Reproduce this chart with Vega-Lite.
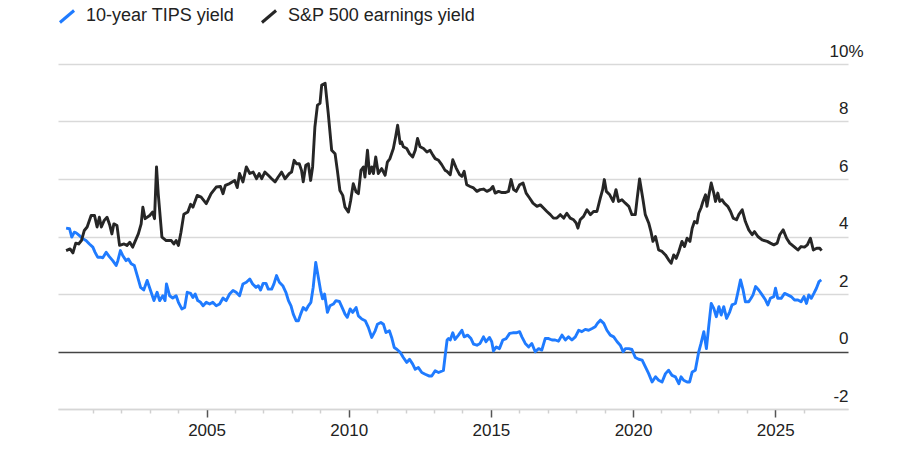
{
  "$schema": "https://vega.github.io/schema/vega-lite/v6.json",
  "width": 790,
  "height": 345,
  "autosize": {"type": "none"},
  "padding": {"left": 58, "top": 64, "right": 52, "bottom": 51},
  "background": "white",
  "config": {
    "font": "Liberation Sans",
    "view": {"stroke": null},
    "axis": {
      "labelFont": "Liberation Sans",
      "labelFontSize": 17,
      "labelColor": "#222222",
      "title": null
    },
    "legend": {
      "labelFont": "Liberation Sans",
      "labelFontSize": 18,
      "labelColor": "#222222",
      "labelLimit": 0
    }
  },
  "datasets": {
    "tips": [
      {"t": 2000.06, "v": 4.29}, {"t": 2000.18, "v": 4.27}, {"t": 2000.26, "v": 3.98}, {"t": 2000.35, "v": 4.15},
      {"t": 2000.41, "v": 4.13}, {"t": 2000.53, "v": 4.03}, {"t": 2000.65, "v": 3.92}, {"t": 2000.76, "v": 3.86},
      {"t": 2000.88, "v": 3.74}, {"t": 2001.0, "v": 3.63}, {"t": 2001.08, "v": 3.45}, {"t": 2001.17, "v": 3.28},
      {"t": 2001.27, "v": 3.28}, {"t": 2001.35, "v": 3.26}, {"t": 2001.47, "v": 3.45}, {"t": 2001.58, "v": 3.3},
      {"t": 2001.7, "v": 3.16}, {"t": 2001.82, "v": 2.99}, {"t": 2001.88, "v": 3.16}, {"t": 2001.97, "v": 3.51},
      {"t": 2002.05, "v": 3.34}, {"t": 2002.17, "v": 3.16}, {"t": 2002.25, "v": 3.22}, {"t": 2002.35, "v": 3.05},
      {"t": 2002.46, "v": 2.99}, {"t": 2002.58, "v": 2.58}, {"t": 2002.68, "v": 2.23}, {"t": 2002.79, "v": 2.14},
      {"t": 2002.91, "v": 2.47}, {"t": 2003.03, "v": 2.12}, {"t": 2003.15, "v": 1.77}, {"t": 2003.26, "v": 2.06},
      {"t": 2003.35, "v": 1.77}, {"t": 2003.46, "v": 1.94}, {"t": 2003.54, "v": 1.77}, {"t": 2003.59, "v": 2.35},
      {"t": 2003.7, "v": 1.94}, {"t": 2003.81, "v": 1.86}, {"t": 2003.93, "v": 1.94}, {"t": 2004.01, "v": 1.71},
      {"t": 2004.13, "v": 1.48}, {"t": 2004.23, "v": 1.53}, {"t": 2004.32, "v": 2.06}, {"t": 2004.44, "v": 2.02},
      {"t": 2004.52, "v": 1.88}, {"t": 2004.6, "v": 2.0}, {"t": 2004.69, "v": 1.77}, {"t": 2004.79, "v": 1.71},
      {"t": 2004.88, "v": 1.59}, {"t": 2004.99, "v": 1.71}, {"t": 2005.11, "v": 1.65}, {"t": 2005.22, "v": 1.71},
      {"t": 2005.34, "v": 1.59}, {"t": 2005.46, "v": 1.65}, {"t": 2005.58, "v": 1.86}, {"t": 2005.69, "v": 1.77},
      {"t": 2005.81, "v": 2.0}, {"t": 2005.93, "v": 2.12}, {"t": 2006.04, "v": 2.06}, {"t": 2006.16, "v": 1.94},
      {"t": 2006.28, "v": 2.35}, {"t": 2006.4, "v": 2.41}, {"t": 2006.52, "v": 2.52}, {"t": 2006.62, "v": 2.35},
      {"t": 2006.74, "v": 2.23}, {"t": 2006.82, "v": 2.29}, {"t": 2006.9, "v": 2.14}, {"t": 2006.99, "v": 2.37},
      {"t": 2007.09, "v": 2.37}, {"t": 2007.17, "v": 2.17}, {"t": 2007.29, "v": 2.17}, {"t": 2007.37, "v": 2.35},
      {"t": 2007.46, "v": 2.64}, {"t": 2007.56, "v": 2.41}, {"t": 2007.68, "v": 2.29}, {"t": 2007.79, "v": 2.06},
      {"t": 2007.88, "v": 1.77}, {"t": 2007.97, "v": 1.59}, {"t": 2008.05, "v": 1.3}, {"t": 2008.15, "v": 1.07},
      {"t": 2008.23, "v": 1.07}, {"t": 2008.31, "v": 1.3}, {"t": 2008.4, "v": 1.53}, {"t": 2008.5, "v": 1.44},
      {"t": 2008.58, "v": 1.59}, {"t": 2008.67, "v": 1.71}, {"t": 2008.75, "v": 2.23}, {"t": 2008.84, "v": 3.1},
      {"t": 2008.93, "v": 2.58}, {"t": 2009.01, "v": 2.12}, {"t": 2009.08, "v": 1.83}, {"t": 2009.15, "v": 2.0},
      {"t": 2009.25, "v": 1.36}, {"t": 2009.34, "v": 1.59}, {"t": 2009.46, "v": 1.65}, {"t": 2009.55, "v": 1.77},
      {"t": 2009.67, "v": 1.74}, {"t": 2009.79, "v": 1.48}, {"t": 2009.87, "v": 1.3}, {"t": 2009.95, "v": 1.19},
      {"t": 2010.05, "v": 1.48}, {"t": 2010.14, "v": 1.36}, {"t": 2010.26, "v": 1.53}, {"t": 2010.34, "v": 1.24},
      {"t": 2010.46, "v": 1.13}, {"t": 2010.58, "v": 1.07}, {"t": 2010.69, "v": 0.84}, {"t": 2010.81, "v": 0.49},
      {"t": 2010.93, "v": 0.72}, {"t": 2011.01, "v": 0.95}, {"t": 2011.13, "v": 1.01}, {"t": 2011.22, "v": 0.95},
      {"t": 2011.31, "v": 0.66}, {"t": 2011.43, "v": 0.72}, {"t": 2011.51, "v": 0.49}, {"t": 2011.6, "v": 0.14},
      {"t": 2011.69, "v": 0.08}, {"t": 2011.81, "v": -0.03}, {"t": 2011.92, "v": -0.21}, {"t": 2012.04, "v": -0.38},
      {"t": 2012.14, "v": -0.27}, {"t": 2012.25, "v": -0.44}, {"t": 2012.34, "v": -0.62}, {"t": 2012.45, "v": -0.56},
      {"t": 2012.57, "v": -0.73}, {"t": 2012.69, "v": -0.79}, {"t": 2012.82, "v": -0.85}, {"t": 2012.92, "v": -0.85},
      {"t": 2013.04, "v": -0.67}, {"t": 2013.16, "v": -0.73}, {"t": 2013.33, "v": -0.66}, {"t": 2013.41, "v": 0.0},
      {"t": 2013.46, "v": 0.4}, {"t": 2013.51, "v": 0.45}, {"t": 2013.57, "v": 0.4}, {"t": 2013.66, "v": 0.65},
      {"t": 2013.74, "v": 0.42}, {"t": 2013.86, "v": 0.57}, {"t": 2013.98, "v": 0.74}, {"t": 2014.06, "v": 0.51},
      {"t": 2014.18, "v": 0.57}, {"t": 2014.3, "v": 0.45}, {"t": 2014.39, "v": 0.26}, {"t": 2014.51, "v": 0.22},
      {"t": 2014.62, "v": 0.28}, {"t": 2014.74, "v": 0.51}, {"t": 2014.83, "v": 0.34}, {"t": 2014.95, "v": 0.49},
      {"t": 2015.03, "v": 0.34}, {"t": 2015.09, "v": 0.02}, {"t": 2015.19, "v": 0.16}, {"t": 2015.3, "v": 0.1},
      {"t": 2015.42, "v": 0.4}, {"t": 2015.54, "v": 0.45}, {"t": 2015.66, "v": 0.63}, {"t": 2015.77, "v": 0.65},
      {"t": 2015.89, "v": 0.65}, {"t": 2016.01, "v": 0.69}, {"t": 2016.09, "v": 0.51}, {"t": 2016.21, "v": 0.28},
      {"t": 2016.33, "v": 0.16}, {"t": 2016.44, "v": 0.28}, {"t": 2016.56, "v": -0.01}, {"t": 2016.68, "v": 0.1},
      {"t": 2016.79, "v": 0.05}, {"t": 2016.91, "v": 0.45}, {"t": 2017.03, "v": 0.45}, {"t": 2017.15, "v": 0.4},
      {"t": 2017.26, "v": 0.4}, {"t": 2017.38, "v": 0.36}, {"t": 2017.5, "v": 0.57}, {"t": 2017.62, "v": 0.4},
      {"t": 2017.73, "v": 0.51}, {"t": 2017.85, "v": 0.4}, {"t": 2017.97, "v": 0.51}, {"t": 2018.09, "v": 0.74},
      {"t": 2018.2, "v": 0.69}, {"t": 2018.32, "v": 0.77}, {"t": 2018.44, "v": 0.74}, {"t": 2018.56, "v": 0.8},
      {"t": 2018.67, "v": 0.86}, {"t": 2018.75, "v": 0.98}, {"t": 2018.85, "v": 1.09}, {"t": 2018.97, "v": 0.98},
      {"t": 2019.08, "v": 0.74}, {"t": 2019.2, "v": 0.57}, {"t": 2019.32, "v": 0.51}, {"t": 2019.44, "v": 0.34},
      {"t": 2019.55, "v": 0.22}, {"t": 2019.65, "v": -0.01}, {"t": 2019.73, "v": 0.1}, {"t": 2019.85, "v": 0.1},
      {"t": 2019.96, "v": 0.07}, {"t": 2020.08, "v": -0.21}, {"t": 2020.2, "v": -0.27}, {"t": 2020.32, "v": -0.3},
      {"t": 2020.43, "v": -0.53}, {"t": 2020.55, "v": -0.77}, {"t": 2020.67, "v": -1.06}, {"t": 2020.79, "v": -0.88},
      {"t": 2020.9, "v": -1.0}, {"t": 2021.02, "v": -1.06}, {"t": 2021.14, "v": -0.77}, {"t": 2021.25, "v": -0.65},
      {"t": 2021.37, "v": -0.83}, {"t": 2021.49, "v": -0.88}, {"t": 2021.61, "v": -1.12}, {"t": 2021.69, "v": -0.88},
      {"t": 2021.78, "v": -1.0}, {"t": 2021.9, "v": -1.06}, {"t": 2021.99, "v": -1.06}, {"t": 2022.08, "v": -0.71},
      {"t": 2022.19, "v": -0.65}, {"t": 2022.31, "v": -0.01}, {"t": 2022.39, "v": 0.28}, {"t": 2022.49, "v": 0.69},
      {"t": 2022.58, "v": 0.1}, {"t": 2022.66, "v": 0.86}, {"t": 2022.75, "v": 1.67}, {"t": 2022.84, "v": 1.5},
      {"t": 2022.93, "v": 1.21}, {"t": 2023.02, "v": 1.56}, {"t": 2023.1, "v": 1.27}, {"t": 2023.19, "v": 1.56},
      {"t": 2023.29, "v": 1.15}, {"t": 2023.4, "v": 1.38}, {"t": 2023.48, "v": 1.62}, {"t": 2023.6, "v": 1.67},
      {"t": 2023.68, "v": 2.02}, {"t": 2023.78, "v": 2.49}, {"t": 2023.87, "v": 2.14}, {"t": 2023.95, "v": 1.73},
      {"t": 2024.07, "v": 1.73}, {"t": 2024.15, "v": 1.85}, {"t": 2024.22, "v": 1.97}, {"t": 2024.31, "v": 2.26},
      {"t": 2024.42, "v": 2.14}, {"t": 2024.54, "v": 1.97}, {"t": 2024.66, "v": 1.79}, {"t": 2024.74, "v": 1.62},
      {"t": 2024.83, "v": 1.85}, {"t": 2024.95, "v": 1.91}, {"t": 2025.01, "v": 2.2}, {"t": 2025.09, "v": 1.85},
      {"t": 2025.21, "v": 1.85}, {"t": 2025.33, "v": 2.02}, {"t": 2025.44, "v": 1.97}, {"t": 2025.56, "v": 1.91},
      {"t": 2025.68, "v": 1.79}, {"t": 2025.8, "v": 1.79}, {"t": 2025.91, "v": 1.73}, {"t": 2026.01, "v": 1.91},
      {"t": 2026.1, "v": 1.67}, {"t": 2026.18, "v": 1.97}, {"t": 2026.27, "v": 1.85}, {"t": 2026.36, "v": 2.02},
      {"t": 2026.45, "v": 2.2}, {"t": 2026.54, "v": 2.43}, {"t": 2026.62, "v": 2.49}
    ],
    "earnings": [
      {"t": 2000.06, "v": 3.51}, {"t": 2000.2, "v": 3.57}, {"t": 2000.3, "v": 3.43}, {"t": 2000.4, "v": 3.77},
      {"t": 2000.5, "v": 3.74}, {"t": 2000.6, "v": 3.86}, {"t": 2000.7, "v": 4.21}, {"t": 2000.8, "v": 4.33},
      {"t": 2000.94, "v": 4.73}, {"t": 2001.06, "v": 4.73}, {"t": 2001.15, "v": 4.33}, {"t": 2001.23, "v": 4.67},
      {"t": 2001.3, "v": 4.33}, {"t": 2001.4, "v": 4.56}, {"t": 2001.5, "v": 4.67}, {"t": 2001.6, "v": 4.38},
      {"t": 2001.67, "v": 4.09}, {"t": 2001.74, "v": 4.44}, {"t": 2001.85, "v": 4.38}, {"t": 2001.94, "v": 3.69},
      {"t": 2002.1, "v": 3.74}, {"t": 2002.2, "v": 3.69}, {"t": 2002.3, "v": 3.8}, {"t": 2002.4, "v": 3.63},
      {"t": 2002.6, "v": 4.09}, {"t": 2002.7, "v": 4.44}, {"t": 2002.76, "v": 5.02}, {"t": 2002.84, "v": 4.62},
      {"t": 2003.0, "v": 4.73}, {"t": 2003.1, "v": 4.85}, {"t": 2003.17, "v": 4.62}, {"t": 2003.24, "v": 6.42},
      {"t": 2003.3, "v": 5.49}, {"t": 2003.43, "v": 3.98}, {"t": 2003.58, "v": 3.86}, {"t": 2003.76, "v": 3.86},
      {"t": 2003.85, "v": 3.74}, {"t": 2003.93, "v": 3.86}, {"t": 2004.01, "v": 3.69}, {"t": 2004.1, "v": 4.15},
      {"t": 2004.2, "v": 4.77}, {"t": 2004.34, "v": 4.85}, {"t": 2004.44, "v": 5.12}, {"t": 2004.52, "v": 5.02},
      {"t": 2004.67, "v": 5.43}, {"t": 2004.81, "v": 5.37}, {"t": 2004.99, "v": 5.14}, {"t": 2005.16, "v": 5.49},
      {"t": 2005.34, "v": 5.72}, {"t": 2005.49, "v": 5.74}, {"t": 2005.58, "v": 5.49}, {"t": 2005.66, "v": 5.78},
      {"t": 2005.81, "v": 5.84}, {"t": 2005.99, "v": 5.95}, {"t": 2006.08, "v": 5.7}, {"t": 2006.16, "v": 6.19},
      {"t": 2006.28, "v": 5.9}, {"t": 2006.4, "v": 6.42}, {"t": 2006.52, "v": 6.19}, {"t": 2006.64, "v": 6.24},
      {"t": 2006.76, "v": 6.01}, {"t": 2006.85, "v": 6.19}, {"t": 2006.94, "v": 6.01}, {"t": 2007.05, "v": 6.24},
      {"t": 2007.17, "v": 6.13}, {"t": 2007.29, "v": 6.01}, {"t": 2007.41, "v": 5.9}, {"t": 2007.52, "v": 6.07},
      {"t": 2007.64, "v": 6.24}, {"t": 2007.76, "v": 6.01}, {"t": 2007.91, "v": 6.19}, {"t": 2007.99, "v": 6.24},
      {"t": 2008.08, "v": 6.65}, {"t": 2008.17, "v": 6.53}, {"t": 2008.26, "v": 6.53}, {"t": 2008.34, "v": 6.3},
      {"t": 2008.4, "v": 5.9}, {"t": 2008.49, "v": 6.48}, {"t": 2008.58, "v": 6.53}, {"t": 2008.66, "v": 5.95},
      {"t": 2008.73, "v": 6.42}, {"t": 2008.81, "v": 7.81}, {"t": 2008.9, "v": 8.57}, {"t": 2008.99, "v": 8.63},
      {"t": 2009.05, "v": 9.27}, {"t": 2009.17, "v": 9.33}, {"t": 2009.28, "v": 8.28}, {"t": 2009.4, "v": 7.0},
      {"t": 2009.52, "v": 6.88}, {"t": 2009.6, "v": 6.3}, {"t": 2009.69, "v": 5.6}, {"t": 2009.79, "v": 5.43},
      {"t": 2009.87, "v": 5.02}, {"t": 2009.99, "v": 4.85}, {"t": 2010.07, "v": 5.26}, {"t": 2010.16, "v": 5.84},
      {"t": 2010.26, "v": 5.55}, {"t": 2010.34, "v": 5.49}, {"t": 2010.43, "v": 6.3}, {"t": 2010.52, "v": 6.42},
      {"t": 2010.57, "v": 6.07}, {"t": 2010.66, "v": 7.0}, {"t": 2010.73, "v": 6.19}, {"t": 2010.81, "v": 6.42},
      {"t": 2010.87, "v": 6.19}, {"t": 2010.95, "v": 6.77}, {"t": 2011.04, "v": 6.19}, {"t": 2011.16, "v": 6.36},
      {"t": 2011.28, "v": 6.13}, {"t": 2011.36, "v": 6.59}, {"t": 2011.45, "v": 6.71}, {"t": 2011.57, "v": 7.06},
      {"t": 2011.65, "v": 7.47}, {"t": 2011.72, "v": 7.87}, {"t": 2011.81, "v": 7.23}, {"t": 2011.86, "v": 7.29},
      {"t": 2011.92, "v": 7.12}, {"t": 2012.04, "v": 7.06}, {"t": 2012.14, "v": 6.88}, {"t": 2012.25, "v": 6.77},
      {"t": 2012.34, "v": 7.0}, {"t": 2012.42, "v": 7.41}, {"t": 2012.51, "v": 7.12}, {"t": 2012.63, "v": 7.06},
      {"t": 2012.75, "v": 6.94}, {"t": 2012.86, "v": 7.0}, {"t": 2012.96, "v": 6.83}, {"t": 2013.04, "v": 6.71},
      {"t": 2013.16, "v": 6.65}, {"t": 2013.27, "v": 6.5}, {"t": 2013.39, "v": 6.3}, {"t": 2013.45, "v": 6.27},
      {"t": 2013.57, "v": 6.15}, {"t": 2013.66, "v": 6.67}, {"t": 2013.78, "v": 6.38}, {"t": 2013.9, "v": 6.15},
      {"t": 2013.98, "v": 6.09}, {"t": 2014.06, "v": 6.27}, {"t": 2014.15, "v": 5.8}, {"t": 2014.27, "v": 5.74},
      {"t": 2014.39, "v": 5.69}, {"t": 2014.51, "v": 5.57}, {"t": 2014.62, "v": 5.63}, {"t": 2014.74, "v": 5.65},
      {"t": 2014.86, "v": 5.57}, {"t": 2014.98, "v": 5.63}, {"t": 2015.07, "v": 5.74}, {"t": 2015.15, "v": 5.51},
      {"t": 2015.27, "v": 5.57}, {"t": 2015.39, "v": 5.53}, {"t": 2015.5, "v": 5.53}, {"t": 2015.62, "v": 5.57},
      {"t": 2015.71, "v": 5.98}, {"t": 2015.8, "v": 5.63}, {"t": 2015.89, "v": 5.57}, {"t": 2016.01, "v": 5.8},
      {"t": 2016.13, "v": 5.86}, {"t": 2016.24, "v": 5.51}, {"t": 2016.36, "v": 5.34}, {"t": 2016.48, "v": 5.16},
      {"t": 2016.62, "v": 5.05}, {"t": 2016.74, "v": 5.1}, {"t": 2016.85, "v": 4.99}, {"t": 2016.97, "v": 4.87},
      {"t": 2017.09, "v": 4.76}, {"t": 2017.2, "v": 4.64}, {"t": 2017.32, "v": 4.64}, {"t": 2017.44, "v": 4.76},
      {"t": 2017.56, "v": 4.64}, {"t": 2017.67, "v": 4.81}, {"t": 2017.79, "v": 4.64}, {"t": 2017.91, "v": 4.58},
      {"t": 2018.0, "v": 4.47}, {"t": 2018.06, "v": 4.29}, {"t": 2018.14, "v": 4.58}, {"t": 2018.26, "v": 4.7},
      {"t": 2018.38, "v": 4.93}, {"t": 2018.5, "v": 4.76}, {"t": 2018.61, "v": 4.87}, {"t": 2018.73, "v": 4.87},
      {"t": 2018.85, "v": 5.34}, {"t": 2018.93, "v": 5.63}, {"t": 2018.99, "v": 5.98}, {"t": 2019.06, "v": 5.57},
      {"t": 2019.18, "v": 5.45}, {"t": 2019.3, "v": 5.22}, {"t": 2019.4, "v": 5.63}, {"t": 2019.49, "v": 5.22},
      {"t": 2019.61, "v": 5.28}, {"t": 2019.73, "v": 5.16}, {"t": 2019.85, "v": 5.05}, {"t": 2019.96, "v": 4.76},
      {"t": 2020.08, "v": 4.76}, {"t": 2020.14, "v": 5.28}, {"t": 2020.23, "v": 6.0}, {"t": 2020.35, "v": 5.28},
      {"t": 2020.43, "v": 4.76}, {"t": 2020.55, "v": 4.47}, {"t": 2020.63, "v": 4.17}, {"t": 2020.7, "v": 3.83},
      {"t": 2020.79, "v": 4.0}, {"t": 2020.9, "v": 3.53}, {"t": 2021.02, "v": 3.48}, {"t": 2021.14, "v": 3.36},
      {"t": 2021.25, "v": 3.19}, {"t": 2021.34, "v": 3.07}, {"t": 2021.43, "v": 3.36}, {"t": 2021.52, "v": 3.24},
      {"t": 2021.61, "v": 3.48}, {"t": 2021.72, "v": 3.83}, {"t": 2021.81, "v": 3.65}, {"t": 2021.9, "v": 3.94},
      {"t": 2022.0, "v": 3.83}, {"t": 2022.08, "v": 4.29}, {"t": 2022.16, "v": 4.52}, {"t": 2022.25, "v": 4.47},
      {"t": 2022.31, "v": 4.81}, {"t": 2022.39, "v": 4.99}, {"t": 2022.46, "v": 5.22}, {"t": 2022.55, "v": 5.45},
      {"t": 2022.6, "v": 5.05}, {"t": 2022.66, "v": 5.4}, {"t": 2022.75, "v": 5.86}, {"t": 2022.84, "v": 5.51},
      {"t": 2022.9, "v": 5.22}, {"t": 2022.98, "v": 5.51}, {"t": 2023.05, "v": 5.22}, {"t": 2023.13, "v": 5.28},
      {"t": 2023.21, "v": 5.16}, {"t": 2023.33, "v": 5.05}, {"t": 2023.43, "v": 4.87}, {"t": 2023.52, "v": 4.64},
      {"t": 2023.64, "v": 4.58}, {"t": 2023.72, "v": 4.76}, {"t": 2023.84, "v": 4.93}, {"t": 2023.95, "v": 4.52},
      {"t": 2024.07, "v": 4.23}, {"t": 2024.19, "v": 4.06}, {"t": 2024.27, "v": 4.17}, {"t": 2024.39, "v": 4.0},
      {"t": 2024.54, "v": 3.88}, {"t": 2024.72, "v": 3.83}, {"t": 2024.83, "v": 3.77}, {"t": 2024.95, "v": 3.71},
      {"t": 2025.07, "v": 3.77}, {"t": 2025.16, "v": 4.06}, {"t": 2025.28, "v": 4.23}, {"t": 2025.4, "v": 3.94},
      {"t": 2025.51, "v": 3.77}, {"t": 2025.66, "v": 3.65}, {"t": 2025.8, "v": 3.53}, {"t": 2025.91, "v": 3.65},
      {"t": 2026.03, "v": 3.63}, {"t": 2026.13, "v": 3.71}, {"t": 2026.24, "v": 3.94}, {"t": 2026.34, "v": 3.53},
      {"t": 2026.46, "v": 3.59}, {"t": 2026.57, "v": 3.59}, {"t": 2026.63, "v": 3.51}
    ]
  },
  "encoding": {
    "x": {
      "field": "t",
      "type": "quantitative",
      "scale": {"domain": [1999.775, 2027.56], "nice": false, "zero": false},
      "axis": {
        "values": [2001, 2002, 2003, 2004, 2005, 2006, 2007, 2008, 2009, 2010, 2011, 2012, 2013, 2014, 2015, 2016, 2017, 2018, 2019, 2020, 2021, 2022, 2023, 2024, 2025, 2026],
        "labelExpr": "datum.value % 5 === 0 ? '' + datum.value : ''",
        "grid": false,
        "domainColor": "#d6d6d6",
        "domainWidth": 1.5,
        "tickSize": 8,
        "tickWidth": 1.5,
        "tickColor": {"condition": {"test": "datum.value % 5 === 0", "value": "#555555"}, "value": "#d0d0d0"},
        "tickDash": {"condition": {"test": "datum.value % 5 === 0", "value": []}, "value": [4, 10]},
        "labelPadding": 5,
        "labelFlush": false,
        "labelOverlap": false
      }
    },
    "y": {
      "field": "v",
      "type": "quantitative",
      "scale": {"domain": [-2, 10], "nice": false},
      "axis": {
        "orient": "right",
        "values": [-2, 0, 2, 4, 6, 8, 10],
        "labelExpr": "datum.value === 10 ? '10%' : '' + datum.value",
        "domain": false,
        "ticks": false,
        "tickSize": 0,
        "grid": true,
        "gridColor": {"condition": {"test": "datum.value === 0", "value": "#444444"}, "value": "#d9d9d9"},
        "gridWidth": 1.4,
        "labelAlign": "right",
        "labelBaseline": "alphabetic",
        "labelOffset": -8,
        "labelPadding": {"condition": {"test": "datum.value === 10", "value": 15}, "value": 0}
      }
    },
    "color": {
      "type": "nominal",
      "scale": {
        "domain": ["10-year TIPS yield", "S&P 500 earnings yield"],
        "range": ["#1f7bff", "#262626"]
      },
      "legend": {
        "title": null,
        "orient": "none",
        "legendX": 0,
        "legendY": -57,
        "direction": "horizontal",
        "symbolType": "M-1,0.85L1,-0.85",
        "symbolSize": 200,
        "symbolStrokeWidth": 3,
        "labelOffset": 10,
        "columnPadding": 20,
        "labelLimit": 0,
        "padding": 0
      }
    }
  },
  "layer": [
    {
      "data": {"name": "tips"},
      "mark": {"type": "line", "strokeWidth": 2.9, "strokeJoin": "round"},
      "encoding": {"color": {"datum": "10-year TIPS yield"}}
    },
    {
      "data": {"name": "earnings"},
      "mark": {"type": "line", "strokeWidth": 2.9, "strokeJoin": "round"},
      "encoding": {"color": {"datum": "S&P 500 earnings yield"}}
    }
  ]
}
